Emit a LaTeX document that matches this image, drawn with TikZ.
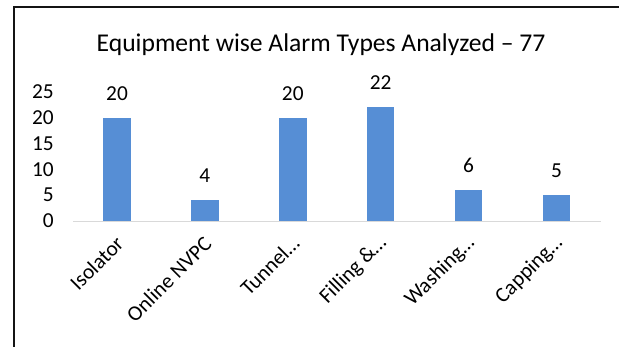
\documentclass[tikz,border=0pt]{standalone}
\usepackage{fontspec}
\setmainfont{Carlito}
\definecolor{barblue}{RGB}{86,142,213}
\definecolor{axisgray}{RGB}{217,217,217}
\definecolor{framegray}{RGB}{20,20,20}
\begin{document}
\begin{tikzpicture}[x=0.75pt,y=-0.75pt,
  bar/.style={fill=barblue},
  charttitle/.style={font=\fontsize{19.2}{23}\selectfont, anchor=base, inner sep=0pt},
  vlabel/.style={font=\fontsize{16}{19}\selectfont, anchor=base, inner sep=0pt},
  ticklabel/.style={font=\fontsize{16}{19}\selectfont, anchor=east, inner sep=0pt},
  catlabel/.style={font=\fontsize{16}{19}\selectfont, anchor=east, rotate=45, inner sep=0pt}]
\useasboundingbox (0,0) rectangle (619,347);
% frame
\draw[framegray, line width=1.1pt] (619,7) -- (14,7) -- (14,347);
% title
\node[charttitle] (title) at (321,51.7) {Equipment wise Alarm Types Analyzed – 77};
% value axis labels
\foreach \t in {0,5,...,25}
  \node[ticklabel] (t\t) at (54,{221-5.165*\t}) {\t};
% bars, data labels and category labels
\foreach \i/\v/\lab in {0/20/Isolator, 1/4/Online NVPC, 2/20/Tunnel…, 3/22/Filling \&…, 4/6/Washing…, 5/5/Capping…}{
  \pgfmathsetmacro\cx{117+87.9*\i}
  \fill[bar] (\cx-13.75,221) rectangle (\cx+13.75,{221-5.165*\v});
  \node[vlabel] (v\i) at (\cx,{221-5.165*\v-17.5}) {\v};
  \node[catlabel] (c\i) at (\cx+3,240) {\lab};
}
% category axis
\draw[axisgray, line width=0.75pt] (73,221) -- (601,221);
\end{tikzpicture}
\end{document}
